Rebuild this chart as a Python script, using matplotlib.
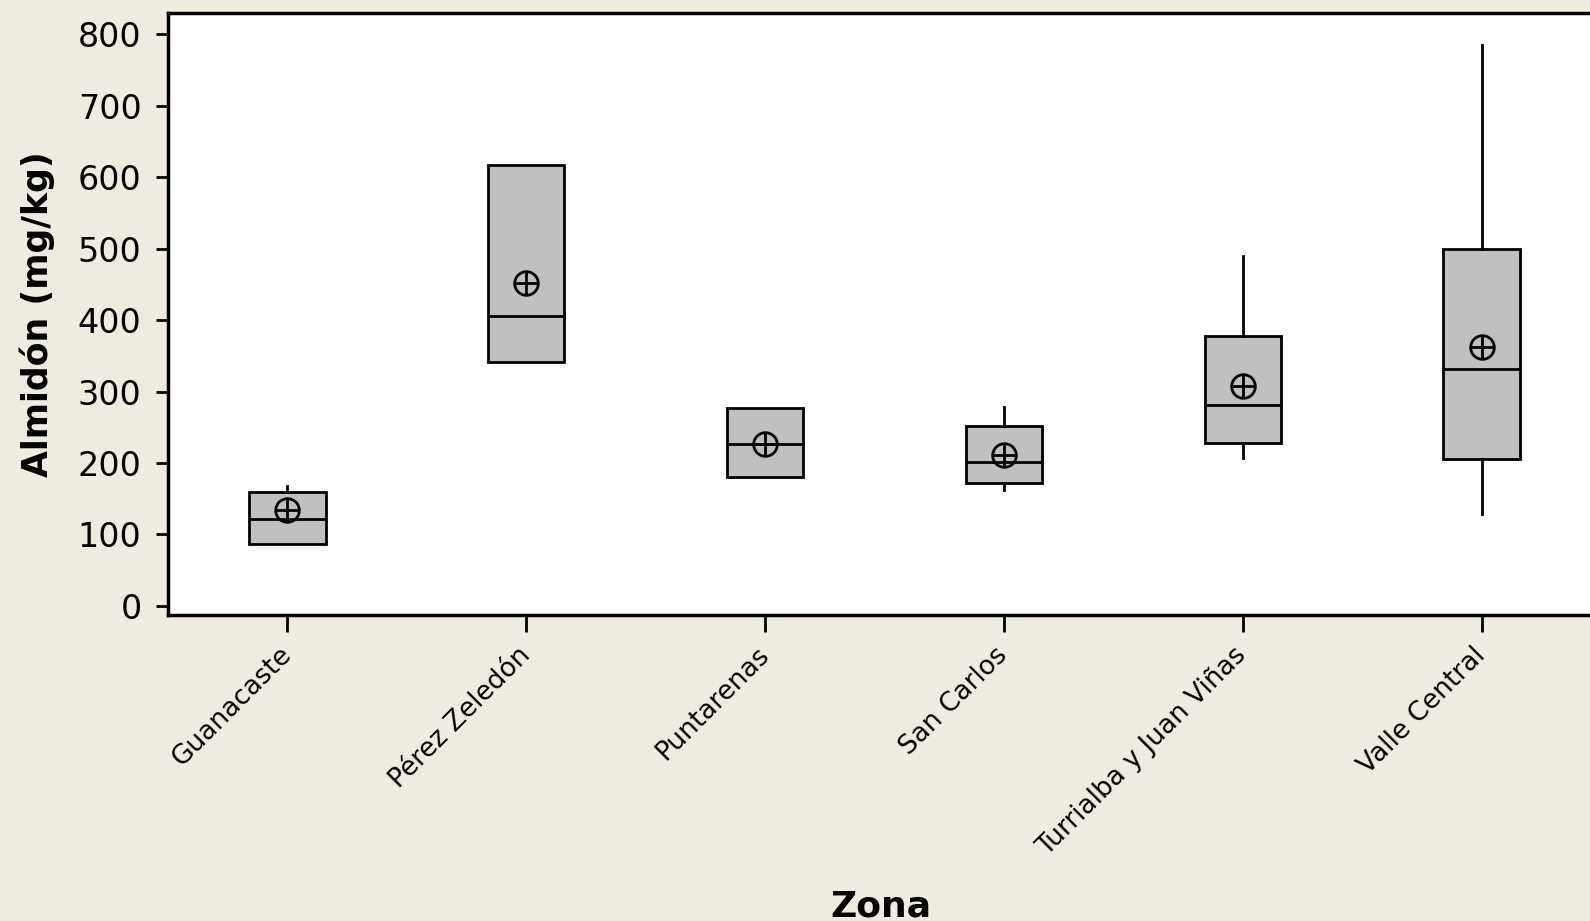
import matplotlib.pyplot as plt

# Almidón por zona: cuartiles, bigotes y media
zonas = ["Guanacaste", "Pérez Zeledón", "Puntarenas", "San Carlos",
         "Turrialba y Juan Viñas", "Valle Central"]
q1 = [87, 341, 180, 172, 228, 205]
mediana = [122, 406, 227, 202, 281, 331]
q3 = [160, 617, 277, 252, 378, 499]
bigote_inf = [87, 341, 180, 162, 207, 128]
bigote_sup = [168, 617, 277, 278, 489, 784]
media = [134, 452, 227, 211, 307, 362]

fondo = "#EFEBE1"

fig = plt.figure(figsize=(15.9, 9.21), dpi=100, facecolor=fondo)
ax = fig.add_axes([168 / 1590, 306 / 921, 1433 / 1590, 601.5 / 921])
ax.set_facecolor("white")

stats = []
for i, z in enumerate(zonas):
    stats.append({"label": z, "q1": q1[i], "med": mediana[i], "q3": q3[i],
                  "whislo": bigote_inf[i], "whishi": bigote_sup[i],
                  "mean": media[i], "fliers": []})

pos = list(range(len(zonas)))
ax.bxp(stats, positions=pos, widths=0.32, patch_artist=True,
       showcaps=False, showfliers=False, showmeans=False,
       boxprops=dict(facecolor="#C0C0C0", edgecolor="black", linewidth=2),
       medianprops=dict(color="black", linewidth=2),
       whiskerprops=dict(color="black", linewidth=2))

# símbolo de la media: círculo con cruz
ax.plot(pos, media, "o", ms=17, mfc="none", mec="black", mew=2, zorder=5)
ax.plot(pos, media, "+", ms=17, mec="black", mew=2, zorder=5)

ax.set_xlim(-0.5, 5.5)
ax.set_ylim(-12.6, 828.7)
ax.set_yticks(range(0, 900, 100))
ax.set_xticks(pos)
ax.set_xticklabels(zonas, rotation=45, ha="right", va="center",
                   rotation_mode="anchor", fontsize=19)
ax.tick_params(axis="y", labelsize=24, length=9, width=2, pad=10)
ax.tick_params(axis="x", length=12, width=2, pad=14)

for s in ax.spines.values():
    s.set_linewidth(2.5)

ax.set_ylabel("Almidón (mg/kg)", fontsize=25, fontweight="bold")
ax.yaxis.set_label_coords(-0.079, 0.5)
fig.text(881 / 1590, 15 / 921, "Zona", fontsize=26, fontweight="bold",
         ha="center", va="center")

fig.savefig("out.png", dpi=100, facecolor=fondo)
